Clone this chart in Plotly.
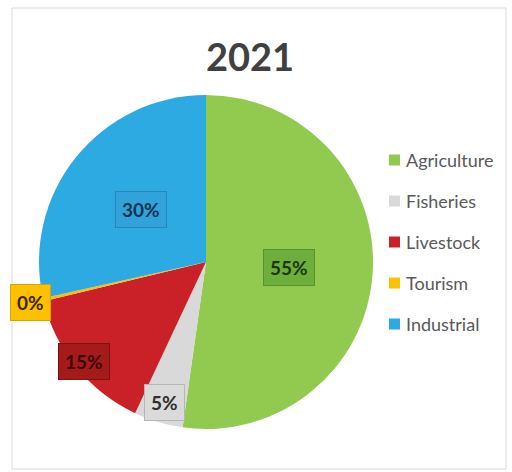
import math
import plotly.graph_objects as go

# Sector shares for 2021 (percent)
sectors = ["Agriculture", "Fisheries", "Livestock", "Tourism", "Industrial"]
shares = [55, 5, 15, 0.3, 30]

slice_colors = ["#92C94F", "#D9D9D9", "#C92127", "#FFC000", "#2DAAE1"]
box_colors = ["#6EAE3C", "#DADADA", "#A51B1B", "#FFC000", "#31A3DA"]
box_edge_colors = ["#5A9130", "#B5B5B5", "#7E1212", "#D9A300", "#2688B8"]
box_text_colors = ["#1B380C", "#2E2E2E", "#3C0505", "#3A2600", "#0D3450"]
label_radius = [0.5, 0.88, 0.94, 1.08, 0.5]

W, H = 512, 472


def px_x(v):
    return v / W


def px_y(v):
    return 1 - v / H


# pie area in pixels
left, right, top, bottom = 39, 373, 95, 429
cx, cy = (left + right) / 2, (top + bottom) / 2
R = (right - left) / 2

fig = go.Figure()
fig.add_trace(go.Pie(
    labels=sectors,
    values=shares,
    sort=False,
    direction="clockwise",
    rotation=0,
    marker=dict(colors=slice_colors, line=dict(width=0)),
    textinfo="none",
    hoverinfo="label+value",
    showlegend=False,
    domain=dict(x=[px_x(left), px_x(right)], y=[px_y(bottom), px_y(top)]),
))

# data labels in coloured boxes, placed at each slice's mid angle
total = sum(shares)
cum = 0.0
for i, v in enumerate(shares):
    mid = 2 * math.pi * (cum + v / 2) / total
    cum += v
    r = R * label_radius[i]
    lx = cx + r * math.sin(mid)
    ly = cy - r * math.cos(mid)
    fig.add_annotation(
        x=px_x(lx), y=px_y(ly), xref="paper", yref="paper",
        xanchor="center", yanchor="middle",
        text=f"<b>{v:.0f}%</b>", showarrow=False,
        font=dict(family="Lato", size=19, color=box_text_colors[i]),
        bgcolor=box_colors[i], bordercolor=box_edge_colors[i],
        borderwidth=1, borderpad=6,
    )

# legend: square swatch + name
shapes = [dict(type="rect", xref="paper", yref="paper",
               x0=px_x(12), x1=px_x(506), y0=px_y(469), y1=px_y(8),
               line=dict(color="#D9D9D9", width=1), fillcolor="rgba(0,0,0,0)")]
for i, name in enumerate(sectors):
    yc = 160 + 41 * i
    shapes.append(dict(type="rect", xref="paper", yref="paper",
                       x0=px_x(389), x1=px_x(400), y0=px_y(yc + 5.5), y1=px_y(yc - 5.5),
                       line=dict(width=0), fillcolor=slice_colors[i]))
    fig.add_annotation(
        x=px_x(404), y=px_y(yc), xref="paper", yref="paper",
        xanchor="left", yanchor="middle", text=name, showarrow=False,
        font=dict(family="Lato", size=18, color="#595959"),
    )

fig.update_layout(
    width=W, height=H,
    margin=dict(l=0, r=0, t=0, b=0),
    paper_bgcolor="white",
    title=dict(text="<b>2021</b>", x=250 / W, xanchor="center",
               y=px_y(58), yanchor="middle",
               font=dict(family="Lato", size=38, color="#404040")),
    shapes=shapes,
)

fig.write_html("out.html")
